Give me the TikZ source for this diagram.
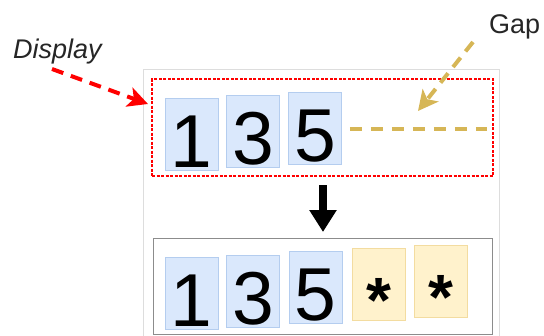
\documentclass[tikz,border=0pt]{standalone}
\usepackage{fontspec}
\setmainfont{Liberation Sans}
\usetikzlibrary{arrows.meta}
\definecolor{cellblue}{HTML}{DAE8FC}
\definecolor{cellblueedge}{HTML}{B4CDEF}
\definecolor{cellyellow}{HTML}{FFF2CC}
\definecolor{cellyellowedge}{HTML}{F3DCA0}
\definecolor{gapgold}{HTML}{D6B656}
\definecolor{panelgray}{HTML}{DDDDDD}
\definecolor{framegray}{HTML}{8C8C8C}
\tikzset{
  cell/.style={line width=0.8pt, minimum width=53pt, minimum height=72pt,
    inner sep=0pt, text height=66pt, text depth=0pt},
  digit/.style={cell, draw=cellblueedge, fill=cellblue,
    font=\fontsize{75pt}{75pt}\selectfont},
  filler/.style={cell, draw=cellyellowedge, fill=cellyellow,
    font=\fontsize{64pt}{64pt}\selectfont\bfseries},
  pointer/.style={line width=4pt, dash pattern=on 12pt off 8pt,
    -{Stealth[length=20pt,width=20pt,inset=5pt]}},
  caption/.style={font=\fontsize{27pt}{27pt}\selectfont, text=black!85, inner sep=0pt}
}
\begin{document}
\begin{tikzpicture}[x=1pt, y=-1pt]
  \useasboundingbox (0,0) rectangle (544,335);

  % light panel behind both rows
  \draw[panelgray, line width=1pt] (143,340) -- (143,69) -- (499,69) -- (499,340);

  % display row
  \node[draw=red, dash pattern=on 3pt off 1.5pt, line width=1.2pt,
        minimum width=341pt, minimum height=97pt, inner sep=0pt]
        (display) at (322.5,127.5) {};
  \node[digit] (t1) at (191.5,134) {1};
  \node[digit] (t3) at (253,131.5) {3};
  \node[digit] (t5) at (315,128) {5};
  \coordinate (gapend) at (487,129);
  \draw[gapgold, line width=4pt, dash pattern=on 12pt off 9pt]
       (t5.east |- gapend) ++(8,0) -- (gapend);

  % labels with their pointers
  \node[caption, anchor=base west, font=\fontsize{27pt}{27pt}\selectfont\itshape]
       (displaylabel) at (13,58) {Display};
  \node[caption, anchor=base west] (gaplabel) at (489,33) {Gap};
  \coordinate (displaytail) at (52,69);
  \coordinate (displaytip) at (148,104);
  \draw[pointer, red] (displaytail) -- (displaytip);
  \coordinate (gaptail) at (473,42);
  \coordinate (gaptip) at (418,111);
  \draw[pointer, gapgold] (gaptail) -- (gaptip);

  % transition arrow
  \coordinate (downfrom) at (323,185);
  \coordinate (downto) at (323,232);
  \draw[line width=8pt, -{Triangle[length=22pt,width=26pt]}] (downfrom) -- (downto);

  % padded row
  \node[draw=framegray, line width=1pt, minimum width=339pt, minimum height=96pt,
        inner sep=0pt] (padded) at (322.5,286) {};
  \node[digit] (b1) at (191.5,293) {1};
  \node[digit] (b3) at (253,291) {3};
  \node[digit] (b5) at (315.5,287.5) {5};
  \node[filler] (s1) at (378.5,284) {\raisebox{-5pt}{*}};
  \node[filler] (s2) at (440.5,281) {\raisebox{-5pt}{*}};
\end{tikzpicture}
\end{document}
